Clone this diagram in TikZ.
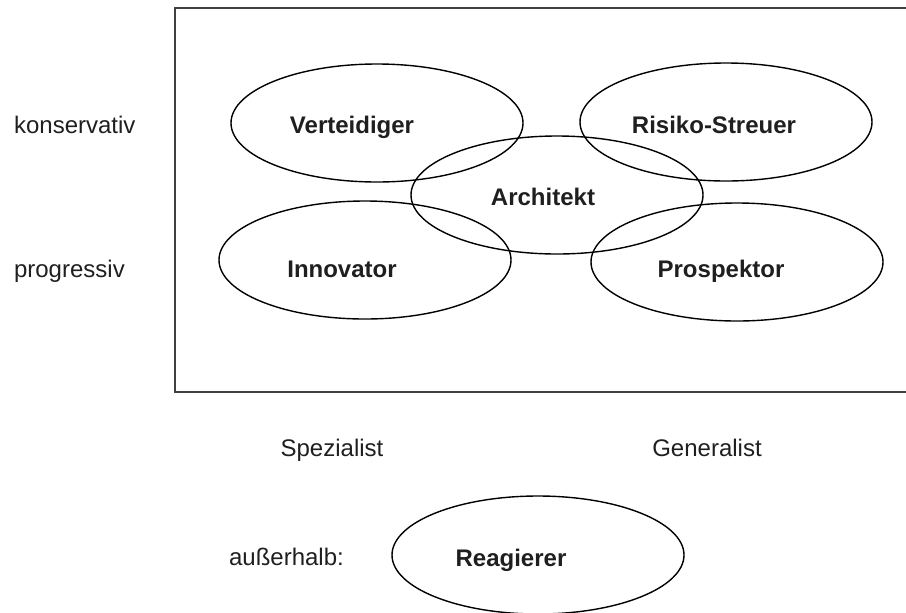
\documentclass[tikz,border=0pt]{standalone}
\usepackage{fontspec}
\setmainfont{Liberation Sans}
\usepackage{tikz}
\usetikzlibrary{shapes.geometric}

\begin{document}
\begin{tikzpicture}[x=0.5pt,y=-0.5pt,
  every node/.style={font=\fontsize{12}{14}\selectfont,text=black!88},
  role/.style={draw,ellipse,line width=0.7pt,minimum width=146pt,minimum height=59pt},
  rolename/.style={anchor=base,font=\fontsize{12}{14}\selectfont\bfseries}]
\useasboundingbox (0,0) rectangle (906,612);
% frame of the portfolio
\draw[black!75,line width=0.9pt] (906,8) -| (175,392) -- (906,392);

\foreach \n/\x/\y/\tx/\ty/\t in {vert/377/123/352/133/Verteidiger,
                                 risk/726/122/714/133/Risiko-Streuer,
                                 arch/557/195/543/205/Architekt,
                                 inno/365/260/342/277/Innovator,
                                 prosp/737/262/721/277/Prospektor,
                                 react/538/555/511/566/Reagierer}
{
  \node[role] (\n) at (\x,\y) {};
  \node[rolename] (\n-t) at (\tx,\ty) {\t};
}

\node[anchor=base west] (kons) at (7,133) {konservativ};
\node[anchor=base west] (prog) at (7,277) {progressiv};
\node[anchor=base] (spez) at (332,456) {Spezialist};
\node[anchor=base] (gen) at (707,456) {Generalist};
\node[anchor=base west] (aus) at (222,565) {außerhalb:};
\end{tikzpicture}
\end{document}
